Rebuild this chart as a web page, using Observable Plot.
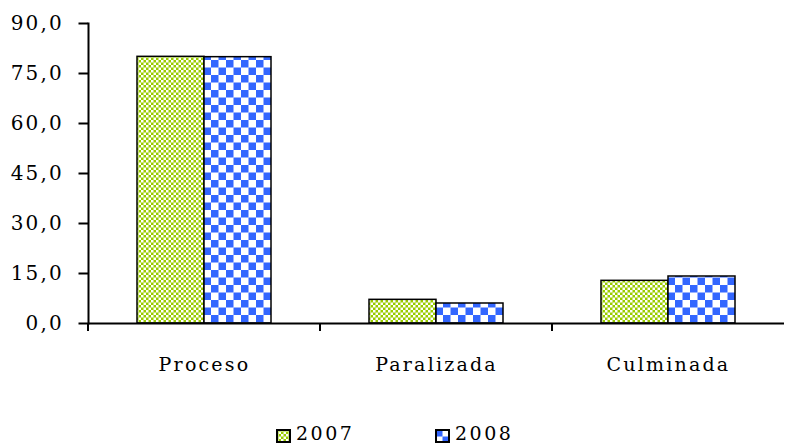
<!DOCTYPE html>
<html>
<head>
<meta charset="utf-8">
<script src="https://cdn.jsdelivr.net/npm/d3@7"></script>
<script src="https://cdn.jsdelivr.net/npm/@observablehq/plot@0.6"></script>
<style>
  body { margin: 0; background: white; }
  #legend { position: relative; width: 785px; height: 44px; font-family: "DejaVu Serif"; font-size: 19px; letter-spacing: 2.5px; color: black; }
  #legend .sw { position: absolute; top: 29px; }
  #legend .lb { position: absolute; top: 22px; line-height: normal; }
</style>
</head>
<body>
<svg width="0" height="0" style="position:absolute">
  <defs>
    <pattern id="p2007" width="5" height="5" patternUnits="userSpaceOnUse">
      <rect width="5" height="5" fill="#99cc00"></rect>
      <rect x="0" y="0" width="2.5" height="2.5" fill="#ffffff"></rect>
      <rect x="2.5" y="2.5" width="2.5" height="2.5" fill="#ffffff"></rect>
    </pattern>
    <pattern id="p2008" width="15" height="15" patternUnits="userSpaceOnUse">
      <rect width="15" height="15" fill="#ffffff"></rect>
      <rect x="0" y="0" width="7.5" height="7.5" fill="#3366ff"></rect>
      <rect x="7.5" y="7.5" width="7.5" height="7.5" fill="#3366ff"></rect>
    </pattern>
  </defs>
</svg>
<div id="chart"></div>
<div id="legend"></div>
<script>
const categories = ["Proceso", "Paralizada", "Culminada"];
const series = ["2007", "2008"];
const values2007 = [80.0, 7.1, 12.8];
const values2008 = [79.9, 6.0, 14.1];
const yTicks = [0, 15, 30, 45, 60, 75, 90];
const patterns = ["url(#p2007)", "url(#p2008)"];

const data = categories.flatMap((c, i) => [
  {category: c, series: series[0], value: values2007[i]},
  {category: c, series: series[1], value: values2008[i]}
]);

function boundaryTicks(index, scales, values, dimensions) {
  const g = d3.create("svg:g");
  const y0 = scales.y(0);
  g.append("line")
    .attr("x1", dimensions.marginLeft).attr("x2", dimensions.marginLeft)
    .attr("y1", y0).attr("y2", y0 + 8)
    .attr("stroke", "black").attr("stroke-width", 2);
  return g.node();
}

const fmt = d => d.toFixed(1).replace(".", ",");

const chart = Plot.plot({
  width: 785,
  height: 400,
  marginLeft: 87,
  marginRight: 0,
  marginTop: 23,
  marginBottom: 77,
  fx: {domain: categories, padding: 0, label: null},
  x: {domain: series, paddingInner: 0, paddingOuter: 0.73, axis: null, label: null},
  y: {domain: [0, 90], label: null},
  color: {domain: series, range: patterns},
  style: {fontFamily: "DejaVu Serif", fontSize: "19px", letterSpacing: "2.2px", color: "black", background: "white", overflow: "visible"},
  marks: [
    Plot.barY(data, {fx: "category", x: "series", y: "value", fill: "series", stroke: "black", strokeWidth: 1.5}),
    Plot.ruleY([0], {strokeWidth: 2}),
    Plot.frame({anchor: "left", facetAnchor: "left", strokeWidth: 2}),
    boundaryTicks,
    Plot.axisY({ticks: yTicks, tickSize: 9.5, tickPadding: 15, tickFormat: fmt, fontSize: 20, strokeWidth: 2, label: null}),
    Plot.axisFx({anchor: "bottom", tickSize: 0, tickPadding: 34, fontSize: 19, label: null})
  ]
});
document.getElementById("chart").appendChild(chart);

const legend = document.getElementById("legend");
const legendX = [276, 435];
series.forEach((s, i) => {
  const sw = document.createElementNS("http://www.w3.org/2000/svg", "svg");
  sw.setAttribute("width", 16); sw.setAttribute("height", 15);
  sw.setAttribute("class", "sw");
  sw.style.left = legendX[i] + "px";
  const r = document.createElementNS("http://www.w3.org/2000/svg", "rect");
  r.setAttribute("x", 1); r.setAttribute("y", 1); r.setAttribute("width", 13); r.setAttribute("height", 12);
  r.setAttribute("fill", patterns[i]); r.setAttribute("stroke", "black"); r.setAttribute("stroke-width", 2);
  sw.appendChild(r);
  legend.appendChild(sw);
  const lb = document.createElement("span");
  lb.className = "lb";
  lb.style.left = (legendX[i] + 20) + "px";
  lb.textContent = s;
  legend.appendChild(lb);
});
</script>
</body>
</html>
